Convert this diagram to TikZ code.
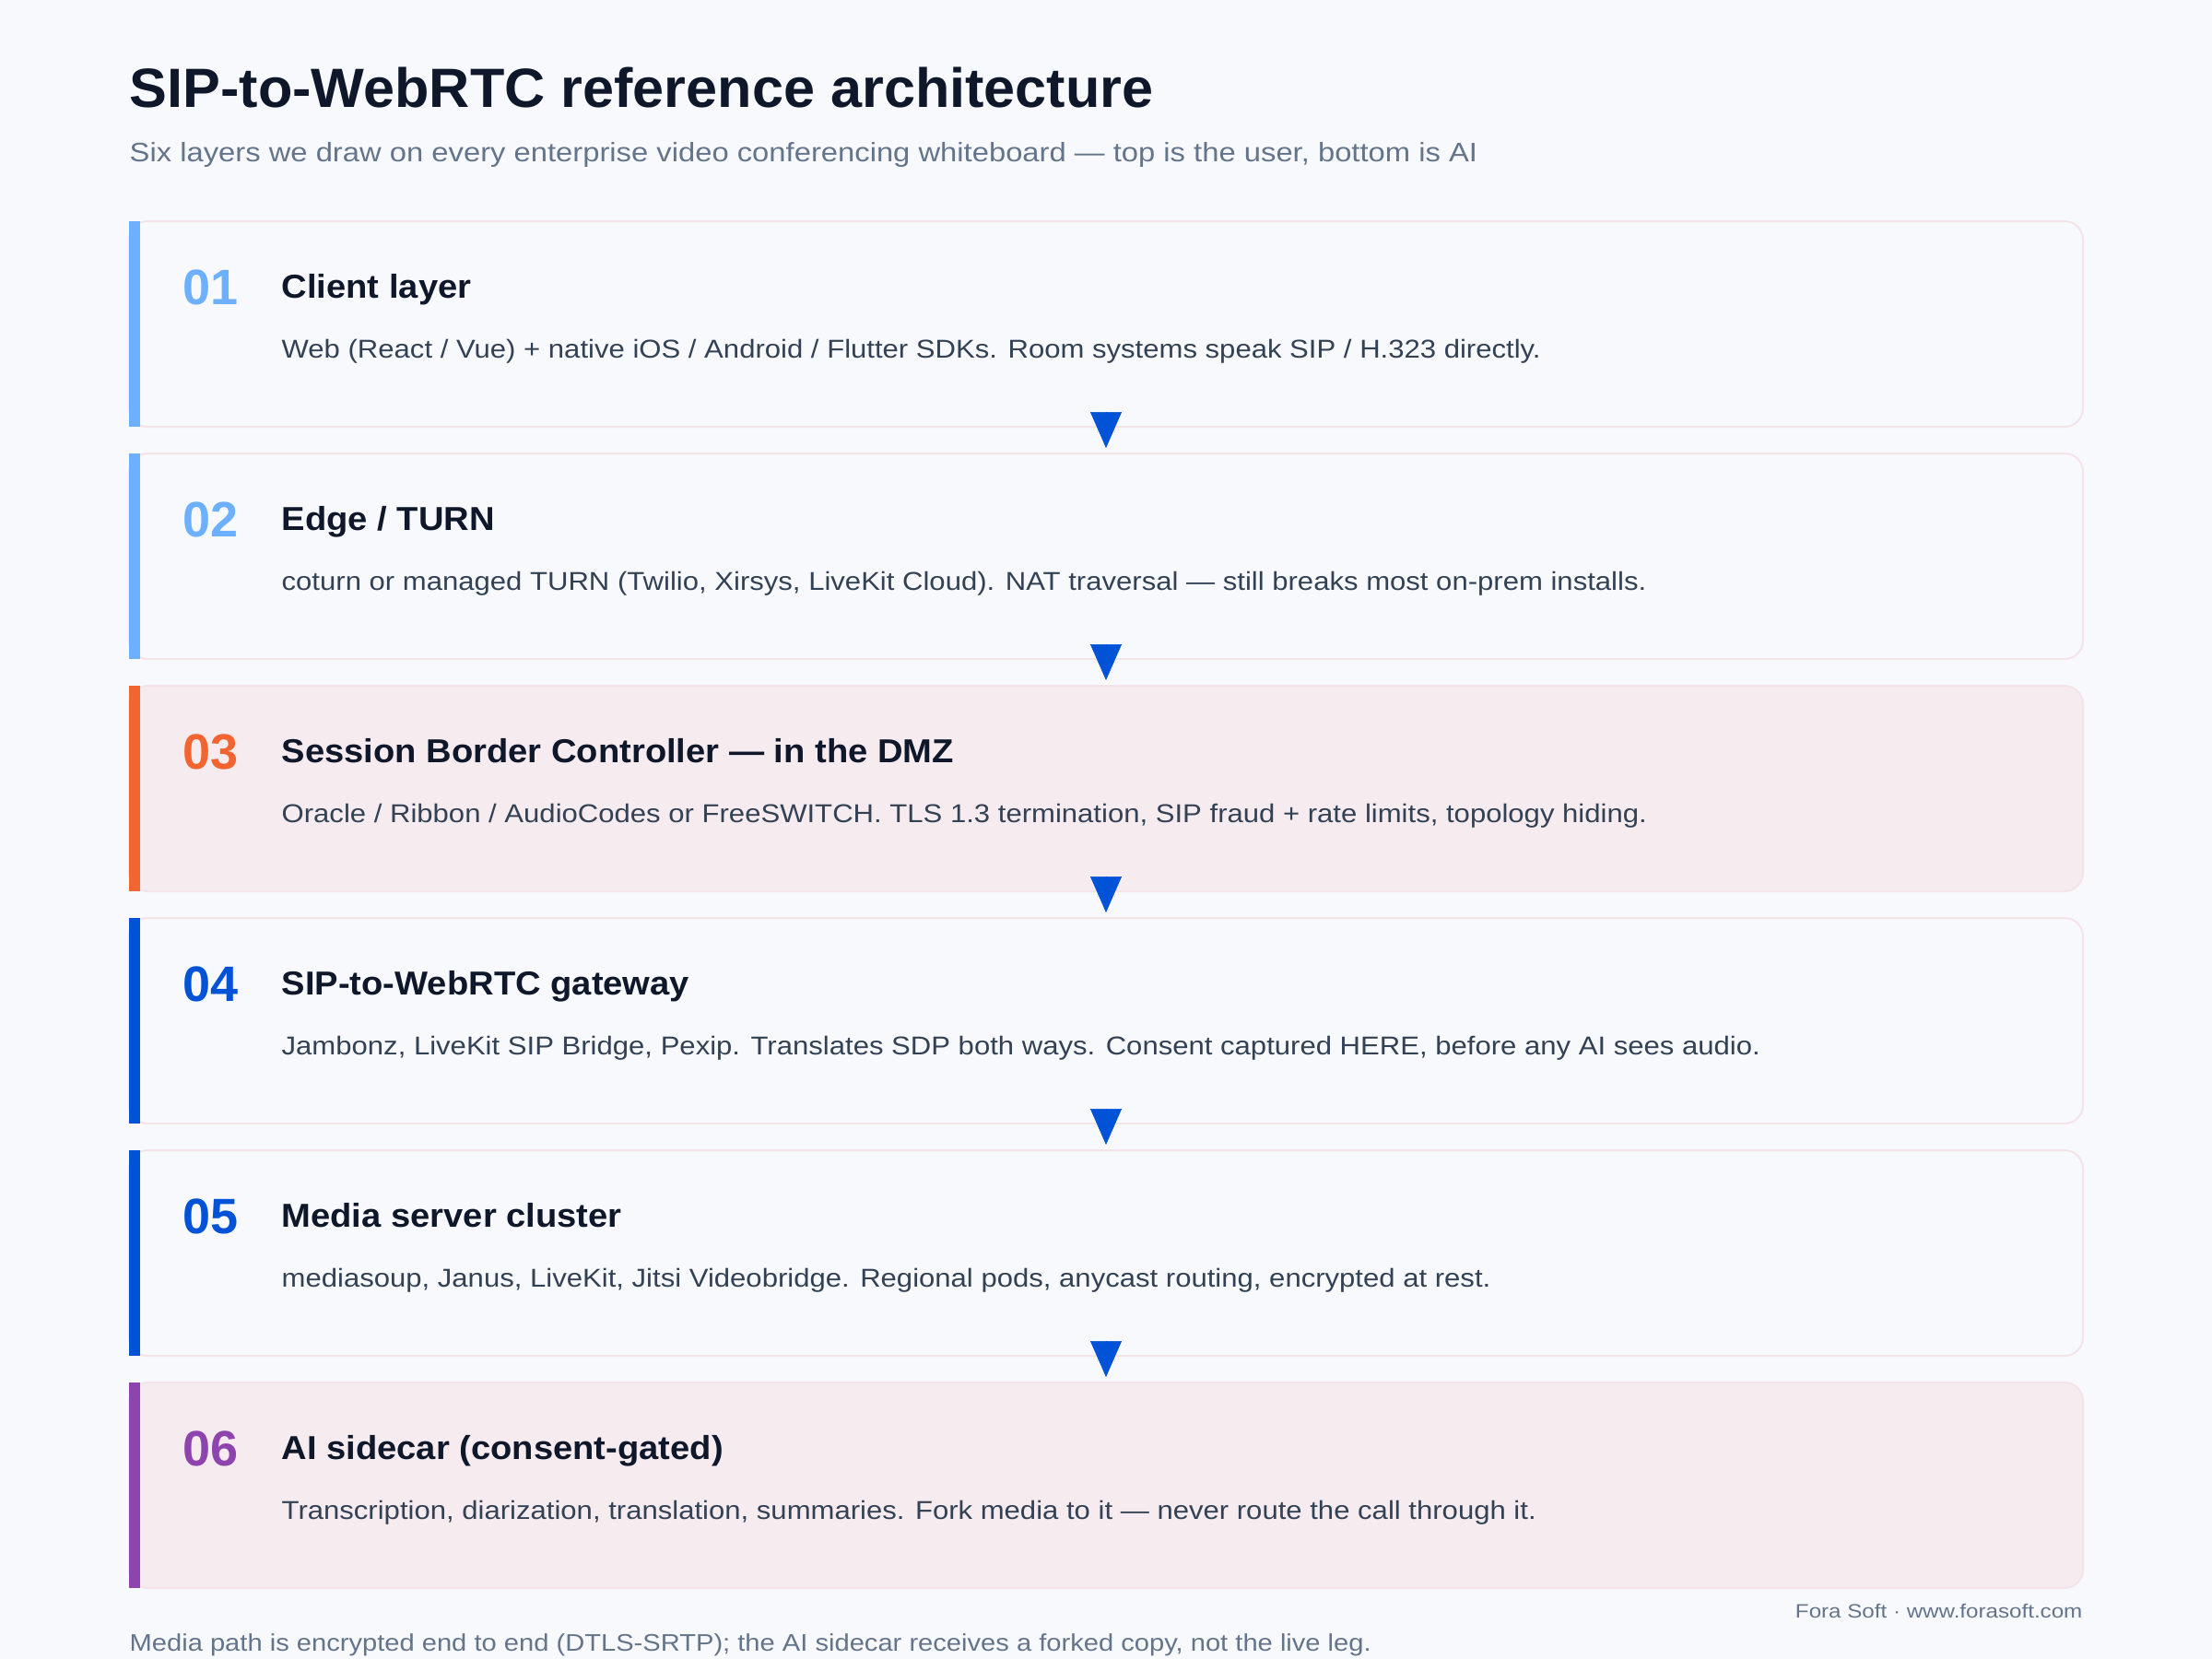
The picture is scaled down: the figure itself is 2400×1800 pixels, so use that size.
\documentclass[tikz,border=0pt]{standalone}
\usepackage{fontspec}
\setmainfont{Liberation Sans}
\newfontfamily\titlefont[FakeStretch=1.02]{Liberation Sans}
\newfontfamily\headfont[FakeStretch=1.06]{Liberation Sans}
\newfontfamily\descfont[FakeStretch=1.11]{Liberation Sans}
\newfontfamily\subfont[FakeStretch=1.13]{Liberation Sans}
\newfontfamily\capfont[FakeStretch=1.12]{Liberation Sans}
\newfontfamily\footfont[FakeStretch=1.15]{Liberation Sans}
\usetikzlibrary{arrows.meta}
\definecolor{bg}{HTML}{F8F9FC}
\definecolor{bord}{HTML}{F4E4EA}
\definecolor{pinkfill}{HTML}{F6EBEF}
\definecolor{plainfill}{HTML}{F8F9FC}
\definecolor{lightblue}{HTML}{6CB0FF}
\definecolor{orange}{HTML}{F26430}
\definecolor{deepblue}{HTML}{0052D6}
\definecolor{purple}{HTML}{8E44AD}
\definecolor{titlecol}{HTML}{0F172A}
\definecolor{graytxt}{HTML}{64748B}
\definecolor{desccol}{HTML}{334155}
\newcommand\layerbox[7]{%
  \node[box, fill=#4] (b#1) at (1200,#2+111.5) {};
  \fill[#3] (140,#2) rectangle (152,#2+223);
  \node[numtxt, text=#3] (n#1) at (198,#2+90) {#5};
  \node[headtxt] (h#1) at (305,#2+83) {#6};
  \node[desctxt] (d#1) at (305,#2+148) {#7};
}
\begin{document}
\begin{tikzpicture}[x=0.3pt,y=-0.3pt,
  box/.style={draw=bord, line width=0.6pt, rounded corners=6pt, minimum width=636pt, minimum height=66.9pt, inner sep=0pt},
  txt/.style={inner sep=0pt, anchor=base west},
  numtxt/.style={txt, font=\fontsize{16.2pt}{18pt}\selectfont\bfseries},
  headtxt/.style={txt, text=titlecol, font=\headfont\fontsize{10.8pt}{13pt}\selectfont\bfseries},
  desctxt/.style={txt, text=desccol, font=\descfont\fontsize{8.4pt}{10pt}\selectfont},
  arr/.style={draw=deepblue, fill=deepblue, line width=0.2pt, -{Triangle[length=11.7pt,width=10.2pt]}}
]
\fill[bg] (0,0) rectangle (2400,1800);
\useasboundingbox (0,0) rectangle (2400,1800);

\node[txt, text=titlecol, font=\titlefont\fontsize{18pt}{21pt}\selectfont\bfseries] (title) at (140,116) {SIP-to-WebRTC reference architecture};
\node[txt, text=graytxt, font=\subfont\fontsize{8.7pt}{10pt}\selectfont] (subtitle) at (140,175) {Six layers we draw on every enterprise video conferencing whiteboard — top is the user, bottom is AI};

\layerbox{1}{240}{lightblue}{plainfill}{01}{Client layer}{Web (React / Vue) + native iOS / Android / Flutter SDKs. Room systems speak SIP / H.323 directly.}
\layerbox{2}{492}{lightblue}{plainfill}{02}{Edge / TURN}{coturn or managed TURN (Twilio, Xirsys, LiveKit Cloud). NAT traversal — still breaks most on-prem installs.}
\layerbox{3}{744}{orange}{pinkfill}{03}{Session Border Controller — in the DMZ}{Oracle / Ribbon / AudioCodes or FreeSWITCH. TLS 1.3 termination, SIP fraud + rate limits, topology hiding.}
\layerbox{4}{996}{deepblue}{plainfill}{04}{SIP-to-WebRTC gateway}{Jambonz, LiveKit SIP Bridge, Pexip. Translates SDP both ways. Consent captured HERE, before any AI sees audio.}
\layerbox{5}{1248}{deepblue}{plainfill}{05}{Media server cluster}{mediasoup, Janus, LiveKit, Jitsi Videobridge. Regional pods, anycast routing, encrypted at rest.}
\layerbox{6}{1500}{purple}{pinkfill}{06}{AI sidecar (consent-gated)}{Transcription, diarization, translation, summaries. Fork media to it — never route the call through it.}

\foreach \a/\b in {1/2,2/3,3/4,4/5,5/6}{
  \draw[arr] ([yshift=4.5pt]b\a.south) -- ([yshift=1.5pt]b\b.north);
}

\node[inner sep=0pt, anchor=base east, text=graytxt, font=\footfont\fontsize{6.3pt}{8pt}\selectfont] (credit) at (2260,1755) {Fora Soft · www.forasoft.com};
\node[txt, text=graytxt, font=\capfont\fontsize{7.8pt}{9pt}\selectfont] (caption) at (140,1791) {Media path is encrypted end to end (DTLS-SRTP); the AI sidecar receives a forked copy, not the live leg.};
\end{tikzpicture}
\end{document}
